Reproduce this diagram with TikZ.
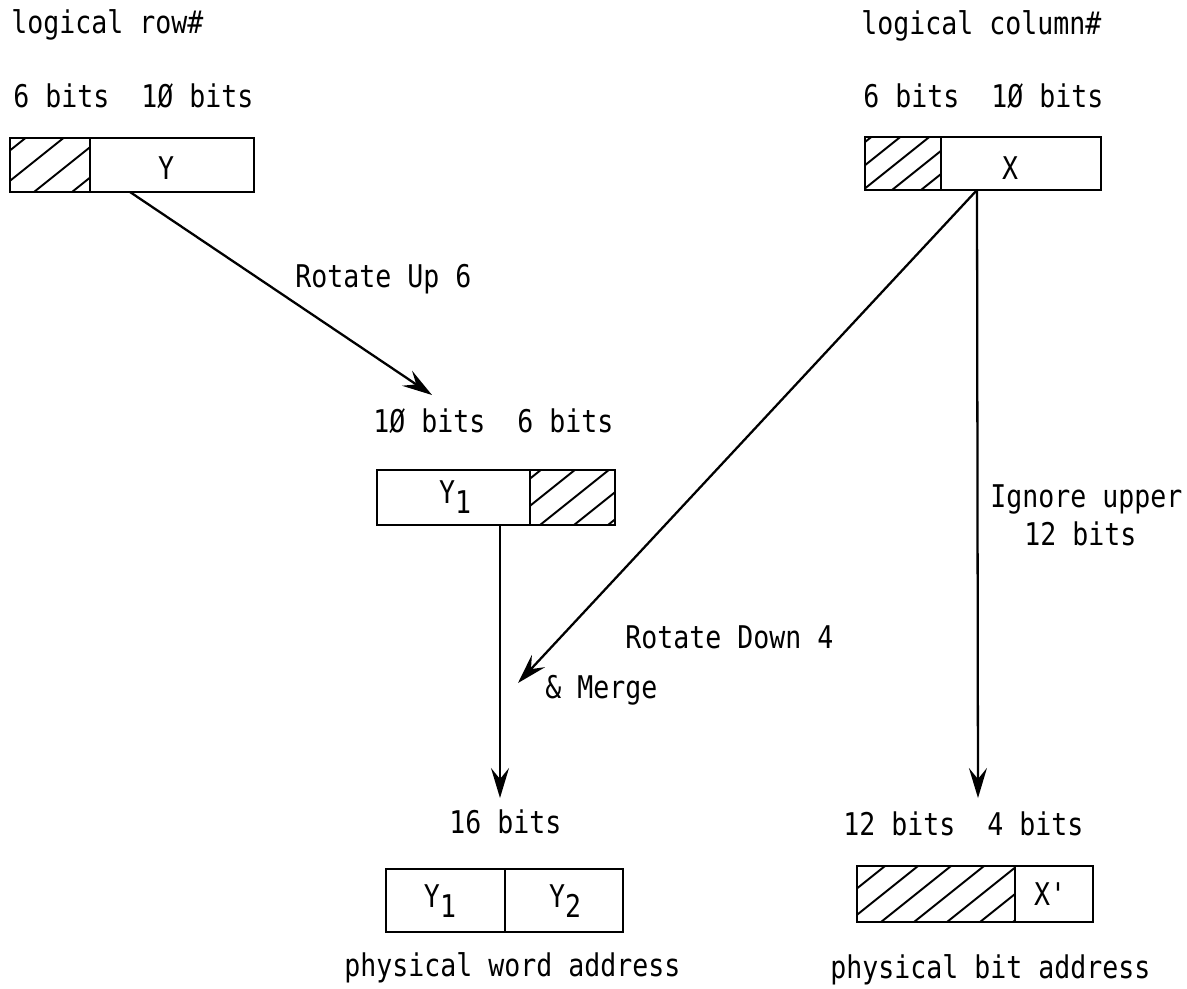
\documentclass[tikz,border=0pt]{standalone}
\usepackage{fontspec}
\setmonofont[FakeStretch=0.85]{DejaVu Sans Mono}
\usetikzlibrary{arrows.meta}
\tikzset{
  lbl/.style={anchor=base west, inner sep=0pt, font=\ttfamily\fontsize{17.8}{21.5}\selectfont},
  cell/.style={inner sep=0pt, font=\ttfamily\fontsize{17.8}{21.5}\selectfont},
  box/.style={draw, line width=1.1pt, inner sep=0pt},
  divider/.style={line width=1.1pt},
  hatchline/.style={line width=1.1pt},
  arr/.style={line width=1.3pt, -{Stealth[length=0.6cm, width=0.36cm, inset=0.22cm]}}
}
% #1,#2 = upper left, #3,#4 = lower right, #5 = spacing, #6 = offset
\newcommand{\hatchcell}[6]{%
  \begin{scope}
    \clip (#1,#2) rectangle (#3,#4);
    \foreach \k in {0,...,9} \draw[hatchline] ({#1-#6+\k*#5},#4) -- ++(100,-80);
  \end{scope}}
\newcommand{\subone}[1]{\raisebox{-5.5pt}{#1}}
\begin{document}
\begin{tikzpicture}[x=0.02cm, y=-0.02cm]
\useasboundingbox (0,0) rectangle (1187,988);

% top labels
\node[lbl] (rowlbl) at (11,33) {logical row\#};
\node[lbl] (collbl) at (861,34) {logical column\#};
\node[lbl] (ybits) at (13,107) {6 bits~~1Ø bits};
\node[lbl] (xbits) at (863,107) {6 bits~~1Ø bits};

% box Y
\node[box, minimum width=4.88cm, minimum height=1.08cm] (ybox) at (132,165) {};
\hatchcell{10}{138}{90}{192}{38}{52}
\draw[divider] (90,138) -- (90,192);
\node[cell] (ylab) at (166,168) {Y};

% box X
\node[box, minimum width=4.72cm, minimum height=1.06cm] (xbox) at (983,163.5) {};
\hatchcell{865}{137}{941}{190}{29}{60}
\draw[divider] (941,137) -- (941,190);
\node[cell] (xlab) at (1010,168) {X};

% middle
\node[lbl] (rotup) at (295,287) {Rotate Up 6};
\node[lbl] (y1bits) at (373,432) {1Ø bits~~6 bits};
\node[box, minimum width=4.76cm, minimum height=1.1cm] (y1box) at (496,497.5) {};
\hatchcell{530}{470}{615}{525}{34}{58}
\draw[divider] (530,470) -- (530,525);
\node[cell] (y1lab) at (455,497) {Y\subone{1}};

\node[lbl] (ignore) at (990,507) {Ignore upper};
\node[lbl] (ignore2) at (1024,545) {12 bits};
\node[lbl] (rotdown) at (625,648) {Rotate Down 4};
\node[lbl] (merge) at (545,698) {\& Merge};

% bottom
\node[lbl] (sixteen) at (449,833) {16 bits};
\node[lbl] (twelve) at (843,835) {12 bits~~4 bits};

\node[box, minimum width=4.74cm, minimum height=1.26cm] (wbox) at (504.5,900.5) {};
\draw[divider] (505,869) -- (505,932);
\node[cell] (wy1) at (440,901) {Y\subone{1}};
\node[cell] (wy2) at (565,901) {Y\subone{2}};

\node[box, minimum width=4.72cm, minimum height=1.12cm] (bbox) at (975,894) {};
\hatchcell{857}{866}{1015}{922}{33}{75}
\draw[divider] (1015,866) -- (1015,922);
\node[cell] (bx) at (1050,894) {X'};

\node[lbl] (wordaddr) at (344,976) {physical word address};
\node[lbl] (bitaddr) at (830,978) {physical bit address};

% connectors
\coordinate (ystart) at (130,192);
\coordinate (y1tip) at (432,395);
\coordinate (y1start) at (500,525);
\coordinate (wtip) at (500,798);
\coordinate (xfork) at (977,190);
\coordinate (mergetip) at (518,683);
\coordinate (btip) at (978,798);
\draw[arr] (ystart) -- (y1tip);
\draw[arr] (y1start) -- (wtip);
\draw[arr] (xfork) -- (mergetip);
\draw[arr] (xfork) -- (btip);
\end{tikzpicture}
\end{document}
